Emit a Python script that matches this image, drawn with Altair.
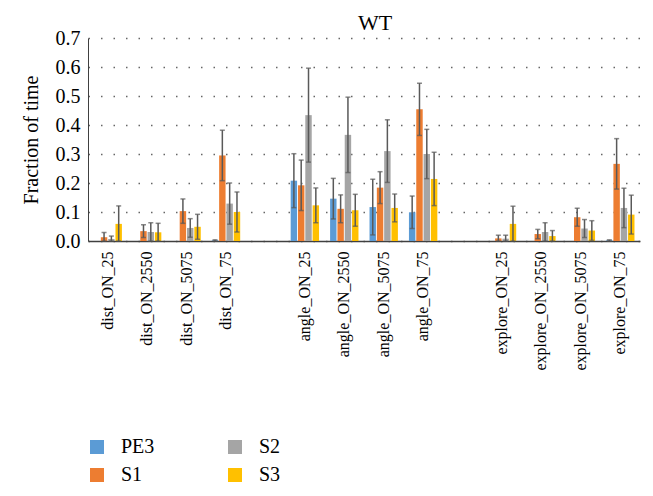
import altair as alt
import pandas as pd

categories = ["dist_ON_25", "dist_ON_2550", "dist_ON_5075", "dist_ON_75",
              "angle_ON_25", "angle_ON_2550", "angle_ON_5075", "angle_ON_75",
              "explore_ON_25", "explore_ON_2550", "explore_ON_5075", "explore_ON_75"]
x_domain = categories[:4] + ["gap_a"] + categories[4:8] + ["gap_b"] + categories[8:]
series = ["PE3", "S1", "S2", "S3"]
colors = ["#5B9BD5", "#ED7D31", "#A5A5A5", "#FFC000"]
legend_order = ["PE3", "S2", "S1", "S3"]
legend_colors = ["#5B9BD5", "#A5A5A5", "#ED7D31", "#FFC000"]
y_ticks = [0, 0.1, 0.2, 0.3, 0.4, 0.5, 0.6, 0.7]

PE3 = [0, 0, 0, 0.002, 0.208, 0.146, 0.117, 0.099, 0, 0, 0, 0.002]
PE3_err = [0, 0, 0, 0.002, 0.093, 0.070, 0.096, 0.056, 0, 0, 0, 0.002]
S1 = [0.013, 0.034, 0.103, 0.295, 0.192, 0.111, 0.184, 0.454, 0.009, 0.024, 0.082, 0.266]
S1_err = [0.016, 0.022, 0.042, 0.087, 0.087, 0.048, 0.055, 0.090, 0.011, 0.016, 0.031, 0.087]
S2 = [0.007, 0.031, 0.045, 0.129, 0.434, 0.366, 0.310, 0.300, 0.008, 0.031, 0.043, 0.114]
S2_err = [0.010, 0.032, 0.032, 0.071, 0.162, 0.130, 0.108, 0.085, 0.012, 0.032, 0.031, 0.068]
S3 = [0.059, 0.030, 0.049, 0.100, 0.123, 0.106, 0.114, 0.214, 0.059, 0.017, 0.036, 0.091]
S3_err = [0.062, 0.031, 0.043, 0.069, 0.060, 0.055, 0.048, 0.092, 0.061, 0.019, 0.034, 0.067]

rows = []
for s, vals, errs in zip(series, [PE3, S1, S2, S3], [PE3_err, S1_err, S2_err, S3_err]):
    for c, v, e in zip(categories, vals, errs):
        rows.append(dict(category=c, series=s, value=v, err=e,
                         lower=max(v - e, 0), upper=v + e))
df = pd.DataFrame(rows)

FONT = "Liberation Serif"

x = alt.X("category:N", sort=x_domain,
          scale=alt.Scale(domain=x_domain, paddingInner=0.28, paddingOuter=0.14),
          axis=alt.Axis(title=None, labelAngle=-90, labelFont=FONT, labelFontSize=16,
                        labelColor="black", labelPadding=10, ticks=False,
                        domainColor="#404040", domainWidth=1.5, grid=False,
                        labelExpr="indexof(datum.value, 'gap') == 0 ? '' : datum.value"))
xo = alt.XOffset("series:N", sort=series,
                 scale=alt.Scale(domain=series, paddingInner=0.12))
yscale = alt.Scale(domain=[0, 0.7], nice=False)
yaxis = alt.Axis(values=y_ticks, format=".1f",
                 title="Fraction of time", titleFont=FONT, titleFontSize=20,
                 titleFontWeight="normal", titleColor="black", titlePadding=14,
                 labelFont=FONT, labelFontSize=20, labelColor="black",
                 labelPadding=8, labelOverlap=False, labelFlush=False,
                 ticks=False, domainColor="#404040",
                 gridDash=[1.5, 11], gridColor="#666666", gridWidth=1.4)

bars = alt.Chart(df).mark_bar().encode(
    x=x, xOffset=xo,
    y=alt.Y("value:Q", scale=yscale, axis=yaxis, title="Fraction of time"),
    color=alt.Color("series:N", scale=alt.Scale(domain=legend_order, range=legend_colors),
                    legend=alt.Legend(title=None, orient="none", legendX=-1, legendY=399,
                                      columns=2, direction="horizontal",
                                      symbolType="square", symbolSize=196,
                                      symbolStrokeWidth=0, labelFont=FONT,
                                      labelFontSize=20, labelColor="black",
                                      labelOffset=14, columnPadding=70, rowPadding=8,
                                      padding=0))
)

eb = alt.Chart(df).transform_filter("datum.err > 0")
rules = eb.mark_rule(color="#595959", strokeWidth=1.5).encode(
    x=x, xOffset=xo,
    y=alt.Y("lower:Q", scale=yscale, axis=yaxis, title="Fraction of time"),
    y2="upper:Q")
cap_top = eb.mark_tick(color="#595959", size=5, thickness=1.5).encode(
    x=x, xOffset=xo,
    y=alt.Y("upper:Q", scale=yscale, axis=yaxis, title="Fraction of time"))
cap_bot = eb.mark_tick(color="#595959", size=5, thickness=1.5).encode(
    x=x, xOffset=xo,
    y=alt.Y("lower:Q", scale=yscale, axis=yaxis, title="Fraction of time"))

chart = alt.layer(bars, rules, cap_top, cap_bot).properties(
    width=552, height=203,
    title=alt.TitleParams("WT", font=FONT, fontSize=22, fontWeight="normal",
                          color="black", dx=11, dy=11, offset=4, frame="group",
                          anchor="middle"),
    autosize=alt.AutoSizeParams(type="none"),
    padding={"left": 80, "top": 30, "right": 5, "bottom": 248},
).configure_view(stroke=None)

chart.save("out.html", embed_options={"renderer": "svg", "actions": False})
